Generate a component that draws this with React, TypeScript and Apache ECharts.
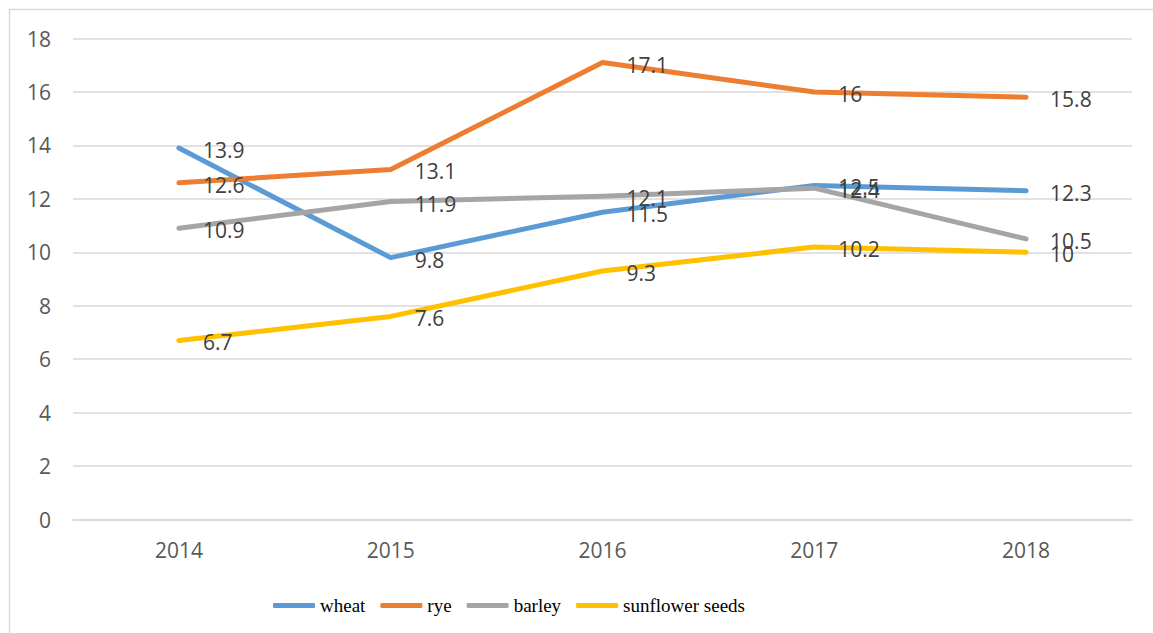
import React, { useEffect, useRef } from "react";
import * as echarts from "echarts";

const years = ["2014", "2015", "2016", "2017", "2018"];
const wheat = [13.9, 9.8, 11.5, 12.5, 12.3];
const rye = [12.6, 13.1, 17.1, 16, 15.8];
const barley = [10.9, 11.9, 12.1, 12.4, 10.5];
const sunflower = [6.7, 7.6, 9.3, 10.2, 10];

const seriesNames = ["wheat", "rye", "barley", "sunflower seeds"];
const seriesColors = ["#5B9BD5", "#ED7D31", "#A5A5A5", "#FFC000"];
const seriesData = [wheat, rye, barley, sunflower];

export default function App() {
  const ref = useRef<HTMLDivElement>(null);
  useEffect(() => {
    if (!ref.current) return;
    const chart = echarts.init(ref.current, null, { renderer: "svg" });
    chart.setOption({
      animation: false,
      backgroundColor: "#ffffff",
      graphic: [
        {
          type: "rect",
          shape: { x: 9.5, y: 9.5, width: 1170, height: 650 },
          style: { fill: "none", stroke: "#d9d9d9", lineWidth: 1.5 },
          silent: true,
          z: -1,
        },
      ],
      grid: { left: 73, right: 21, top: 38.5, bottom: 113.5 },
      legend: {
        left: 268,
        top: 591,
        icon: "roundRect",
        itemWidth: 42,
        itemHeight: 5,
        itemGap: 15,
        textStyle: {
          fontFamily: "Liberation Serif",
          fontSize: 19,
          color: "#000000",
        },
        data: seriesNames,
      },
      xAxis: {
        type: "category",
        data: years,
        boundaryGap: true,
        axisLine: { show: true, lineStyle: { color: "#d9d9d9", width: 1.5 } },
        axisTick: { show: false },
        axisLabel: {
          fontFamily: "Open Sans",
          fontSize: 21,
          color: "#595959",
          margin: 20,
        },
      },
      yAxis: {
        type: "value",
        min: 0,
        max: 18,
        interval: 2,
        axisLine: { show: false },
        axisTick: { show: false },
        splitLine: { lineStyle: { color: "#d9d9d9", width: 1.5 } },
        axisLabel: {
          fontFamily: "Open Sans",
          fontSize: 21,
          color: "#595959",
          margin: 22,
        },
      },
      series: seriesNames.map((name, i) => ({
        name,
        type: "line",
        data: seriesData[i],
        color: seriesColors[i],
        symbol: "circle",
        symbolSize: 2,
        showSymbol: true,
        lineStyle: { width: 5, color: seriesColors[i], cap: "round", join: "round" },
        itemStyle: { color: seriesColors[i] },
        label: {
          show: true,
          position: "right",
          distance: 23,
          offset: [0, 2],
          fontFamily: "Open Sans",
          fontSize: 21,
          color: "#404040",
        },
        emphasis: { disabled: true },
      })),
    });
    return () => chart.dispose();
  }, []);
  return (
    <div
      ref={ref}
      style={{ position: "absolute", left: 0, top: 0, width: 1153, height: 633 }}
    />
  );
}
